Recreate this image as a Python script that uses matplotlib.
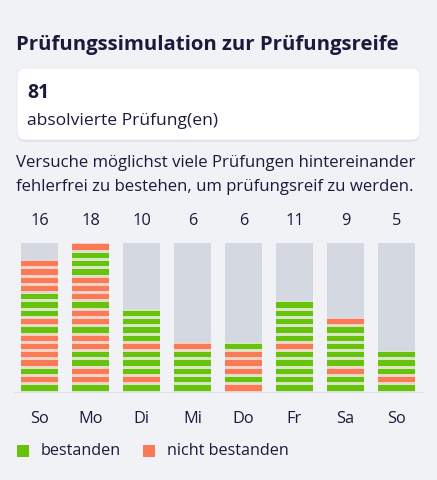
import matplotlib.pyplot as plt
from matplotlib.patches import FancyBboxPatch, Rectangle

# values (bottom -> top, 1 = bestanden, 0 = nicht bestanden)
days = ["So", "Mo", "Di", "Mi", "Do", "Fr", "Sa", "So"]
results = [
    [1, 0, 1, 0, 0, 0, 0, 1, 0, 1, 1, 1, 0, 0, 0, 0],
    [1, 0, 0, 1, 1, 0, 0, 1, 0, 0, 1, 0, 0, 0, 1, 1, 1, 0],
    [1, 0, 1, 1, 1, 0, 1, 1, 1, 1],
    [1, 1, 1, 1, 1, 0],
    [0, 1, 0, 0, 0, 1],
    [1, 1, 1, 1, 1, 0, 1, 1, 1, 1, 1],
    [1, 1, 0, 1, 1, 1, 1, 1, 0],
    [1, 0, 1, 1, 1],
]
max_count = 18
total = 81

title = "Prüfungssimulation zur Prüfungsreife"
card_label = "absolvierte Prüfung(en)"
intro = ["Versuche möglichst viele Prüfungen hintereinander",
         "fehlerfrei zu bestehen, um prüfungsreif zu werden."]
legend_labels = ["bestanden", "nicht bestanden"]

BG = "#f1f2f6"
INK = "#1b1a3d"
GREEN = "#66c20a"
RED = "#fb7a56"
GREEN_GAP = "#d6e6c6"
RED_GAP = "#f4d2c8"
TRACK = "#d4d9e1"

plt.rcParams["font.family"] = ["Open Sans", "DejaVu Sans"]

W, H = 437, 480
fig = plt.figure(figsize=(W / 100, H / 100), dpi=100, facecolor=BG)


def fx(x):
    return x / W


def fy(y):
    return 1 - y / H


fig.text(fx(16), fy(45), title, fontsize=14.7, fontweight="bold", color=INK, va="center")

# card with a soft shadow
shadow = FancyBboxPatch((fx(17), fy(141.5)), fx(403), fy(68) - fy(140),
                        boxstyle="round,pad=0,rounding_size=0.018",
                        transform=fig.transFigure, facecolor="#dcdee5",
                        edgecolor="none")
fig.patches.append(shadow)
card = FancyBboxPatch((fx(17), fy(140)), fx(403), fy(68) - fy(140),
                      boxstyle="round,pad=0,rounding_size=0.018",
                      transform=fig.transFigure, facecolor="white",
                      edgecolor="#e6e8ed", linewidth=0.6)
fig.patches.append(card)
fig.text(fx(27), fy(93), str(total), fontsize=14, fontweight="bold", color=INK, va="center")
fig.text(fx(27), fy(121), card_label, fontsize=12.6, color=INK, va="center")

fig.text(fx(16), fy(163), intro[0], fontsize=12.1, color=INK, va="center")
fig.text(fx(16), fy(187), intro[1], fontsize=12.1, color=INK, va="center")

ax = fig.add_axes([fx(14), fy(392), fx(408), fy(243) - fy(392)])
ax.set_facecolor(BG)
n = len(days)
bw = 0.745
ax.bar(range(n), [max_count] * n, width=bw, color=TRACK, zorder=1)
for i, seq in enumerate(results):
    for j, ok in enumerate(seq):
        ax.bar(i, 1, bottom=j, width=bw, color=GREEN_GAP if ok else RED_GAP, zorder=2)
        ax.bar(i, 0.64, bottom=j + 0.18, width=bw, color=GREEN if ok else RED, zorder=3)
    ax.text(i, max_count + 2.6, str(len(seq)), ha="center", va="center",
            fontsize=11.8, color=INK)

ax.set_xlim(-0.5, n - 0.5)
ax.set_ylim(0, max_count)
ax.set_xticks(range(n))
ax.set_xticklabels(days, fontsize=11.8, color=INK)
ax.tick_params(axis="x", length=0, pad=14)
ax.set_yticks([])
for s in ["top", "left", "right"]:
    ax.spines[s].set_visible(False)
ax.spines["bottom"].set_color("#dfe1e8")
ax.spines["bottom"].set_linewidth(0.8)

# legend
for x0, col, lab in [(17, GREEN, legend_labels[0]), (143, RED, legend_labels[1])]:
    fig.patches.append(Rectangle((fx(x0), fy(457)), fx(12), fy(445) - fy(457),
                                 transform=fig.transFigure, facecolor=col, edgecolor="none"))
    fig.text(fx(x0 + 24), fy(451), lab, fontsize=11.6, color=INK, va="center")

fig.savefig("out.png", dpi=100, facecolor=BG)
